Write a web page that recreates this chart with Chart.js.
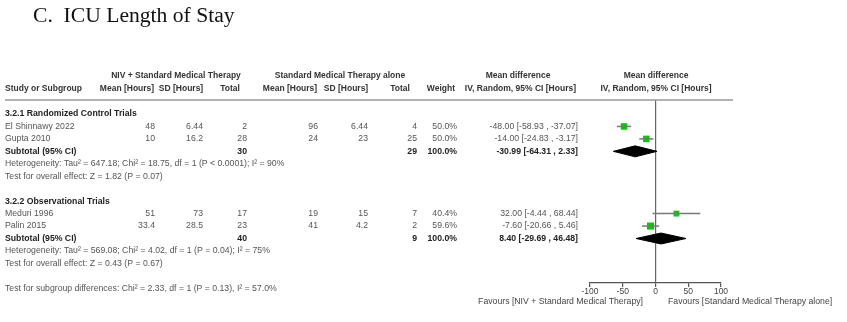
<!DOCTYPE html>
<html lang="en">
<head>
<meta charset="UTF-8">
<title>ICU Length of Stay</title>
<script src="https://cdn.jsdelivr.net/npm/chart.js"></script>
<style>
  body { margin: 0; background: #fff; }
  #wrap { position: relative; width: 847px; height: 322px; }
  #titulo {
    position: absolute; left: 33px; top: 3px;
    font-family: "Liberation Serif", "Times New Roman", serif;
    font-size: 21.6px; color: #111; white-space: pre;
  }
  canvas { position: absolute; left: 0; top: 0; }
</style>
</head>
<body>
<div id="wrap">
  <canvas id="forest" width="847" height="322"></canvas>
  <div id="titulo">C.  ICU Length of Stay</div>
</div>

<script>
  // --- datos de los estudios ---
  const estudios = ['El Shinnawy 2022', 'Gupta 2010', 'Meduri 1996', 'Palin 2015'];
  const nivMedia = [48, 10, 51, 33.4];
  const nivDE = [6.44, 16.2, 73, 28.5];
  const nivTotal = [2, 28, 17, 23];
  const stdMedia = [96, 24, 19, 41];
  const stdDE = [6.44, 23, 15, 4.2];
  const stdTotal = [4, 25, 7, 2];
  const peso = [50.0, 50.0, 40.4, 59.6];
  const dm = [-48.00, -14.00, 32.00, -7.60];
  const dmInf = [-58.93, -24.83, -4.44, -20.66];
  const dmSup = [-37.07, -3.17, 68.44, 5.46];
  const filaEstudio = [3, 4, 10, 11];

  // --- subgrupos ---
  const subgrupos = ['3.2.1 Randomized Control Trials', '3.2.2 Observational Trials'];
  const subNiv = [30, 40];
  const subStd = [29, 9];
  const subDm = [-30.99, 8.40];
  const subInf = [-64.31, -29.69];
  const subSup = [2.33, 46.48];
  const heterog = [
    'Heterogeneity: Tau\u00b2 = 647.18; Chi\u00b2 = 18.75, df = 1 (P < 0.0001); I\u00b2 = 90%',
    'Heterogeneity: Tau\u00b2 = 569.08; Chi\u00b2 = 4.02, df = 1 (P = 0.04); I\u00b2 = 75%'
  ];
  const efecto = [
    'Test for overall effect: Z = 1.82 (P = 0.07)',
    'Test for overall effect: Z = 0.43 (P = 0.67)'
  ];
  const filaTitulo = [2, 9];
  const filaSub = [5, 12];
  const difSubgrupos = 'Test for subgroup differences: Chi\u00b2 = 2.33, df = 1 (P = 0.13), I\u00b2 = 57.0%';
  const ticksX = [-100, -50, 0, 50, 100];

  const VERDE = '#00cc00';
  const GRIS = '#777';
  const ALTO_DIAMANTE = 0.44;
  const FUENTE = '"Liberation Sans", Arial, sans-serif';

  const datasets = [];
  // lineas de IC
  estudios.forEach((e, i) => {
    datasets.push({
      data: [{ x: dmInf[i], y: filaEstudio[i] }, { x: dmSup[i], y: filaEstudio[i] }],
      borderColor: GRIS, borderWidth: 1.5, pointRadius: 0, showLine: true
    });
  });
  // cuadrados
  datasets.push({
    data: estudios.map((e, i) => ({ x: dm[i], y: filaEstudio[i] })),
    showLine: false,
    pointStyle: 'rect',
    pointRadius: peso.map(w => Math.sqrt(w) * 0.65),
    pointBackgroundColor: VERDE,
    pointBorderWidth: 0
  });
  // diamantes
  subgrupos.forEach((s, i) => {
    const r = filaSub[i];
    datasets.push({
      data: [
        { x: subInf[i], y: r }, { x: subDm[i], y: r - ALTO_DIAMANTE },
        { x: subSup[i], y: r }, { x: subDm[i], y: r + ALTO_DIAMANTE },
        { x: subInf[i], y: r }
      ],
      borderColor: '#000', borderWidth: 1, backgroundColor: '#000',
      fill: 'shape', pointRadius: 0, showLine: true
    });
  });

  const tablaTexto = {
    id: 'tablaTexto',
    afterDraw(chart) {
      const c = chart.ctx;
      const ys = chart.scales.y;
      const txt = (s, x, fila, al, neg, color, tam) => {
        c.font = (neg ? 'bold ' : '') + (tam || 8.7) + 'px ' + FUENTE;
        c.fillStyle = color || (neg ? '#222' : '#555');
        c.textAlign = al || 'left';
        c.textBaseline = 'middle';
        c.fillText(s, x, ys.getPixelForValue(fila));
      };
      const cab = (s, x, fila, al) => txt(s, x, fila, al, true, '#333', 8.5);
      c.save();

      // cabecera
      cab('NIV + Standard Medical Therapy', 176, -1.1, 'center');
      cab('Standard Medical Therapy alone', 340, -1.1, 'center');
      cab('Mean difference', 518, -1.1, 'center');
      cab('Mean difference', 656, -1.1, 'center');
      cab('Study or Subgroup', 5, 0, 'left');
      cab('Mean [Hours]', 127, 0, 'center');
      cab('SD [Hours]', 181, 0, 'center');
      cab('Total', 230, 0, 'center');
      cab('Mean [Hours]', 290, 0, 'center');
      cab('SD [Hours]', 346, 0, 'center');
      cab('Total', 400, 0, 'center');
      cab('Weight', 455, 0, 'right');
      cab('IV, Random, 95% CI [Hours]', 576, 0, 'right');
      cab('IV, Random, 95% CI [Hours]', 656, 0, 'center');

      // linea separadora
      c.strokeStyle = '#999';
      c.lineWidth = 1.5;
      c.beginPath();
      c.moveTo(5, chart.chartArea.top);
      c.lineTo(733, chart.chartArea.top);
      c.stroke();

      const ic = (m, a, b) => m.toFixed(2) + ' [' + a.toFixed(2) + ' , ' + b.toFixed(2) + ']';

      estudios.forEach((e, i) => {
        const f = filaEstudio[i];
        txt(e, 5, f);
        txt(String(nivMedia[i]), 155, f, 'right');
        txt(String(nivDE[i]), 203, f, 'right');
        txt(String(nivTotal[i]), 247, f, 'right');
        txt(String(stdMedia[i]), 318, f, 'right');
        txt(String(stdDE[i]), 368, f, 'right');
        txt(String(stdTotal[i]), 417, f, 'right');
        txt(peso[i].toFixed(1) + '%', 457, f, 'right');
        txt(ic(dm[i], dmInf[i], dmSup[i]), 578, f, 'right');
      });

      subgrupos.forEach((s, i) => {
        txt(s, 5, filaTitulo[i], 'left', true);
        const f = filaSub[i];
        txt('Subtotal (95% CI)', 5, f, 'left', true);
        txt(String(subNiv[i]), 247, f, 'right', true);
        txt(String(subStd[i]), 417, f, 'right', true);
        txt('100.0%', 457, f, 'right', true);
        txt(ic(subDm[i], subInf[i], subSup[i]), 578, f, 'right', true);
        txt(heterog[i], 5, f + 1);
        txt(efecto[i], 5, f + 2);
      });

      txt(difSubgrupos, 5, 16);
      txt('Favours [NIV + Standard Medical Therapy]', 643, 17.1, 'right', false, '#444');
      txt('Favours [Standard Medical Therapy alone]', 668, 17.1, 'left', false, '#444');
      c.restore();
    }
  };

  new Chart(document.getElementById('forest'), {
    type: 'line',
    data: { datasets: datasets },
    plugins: [tablaTexto],
    options: {
      responsive: false,
      animation: false,
      devicePixelRatio: 1,
      events: [],
      layout: { padding: { left: 590, right: 126, top: 100, bottom: 0 } },
      elements: { line: { tension: 0 } },
      plugins: { legend: { display: false }, tooltip: { enabled: false } },
      scales: {
        x: {
          type: 'linear',
          min: -100, max: 100,
          afterBuildTicks: (s) => { s.ticks = ticksX.map(v => ({ value: v })); },
          afterFit: (s) => { s.height = 39; },
          grid: {
            color: (ctx) => ctx.tick && ctx.tick.value === 0 ? '#666' : 'rgba(0,0,0,0)',
            lineWidth: 1.2,
            tickColor: '#555',
            tickLength: 4
          },
          border: { display: true, color: '#555', width: 1.2 },
          ticks: { color: '#444', padding: 0, font: { size: 8.5, family: FUENTE } }
        },
        y: {
          type: 'linear',
          reverse: true,
          min: 0.8755, max: 15.574,
          display: false
        }
      }
    }
  });
</script>
</body>
</html>
